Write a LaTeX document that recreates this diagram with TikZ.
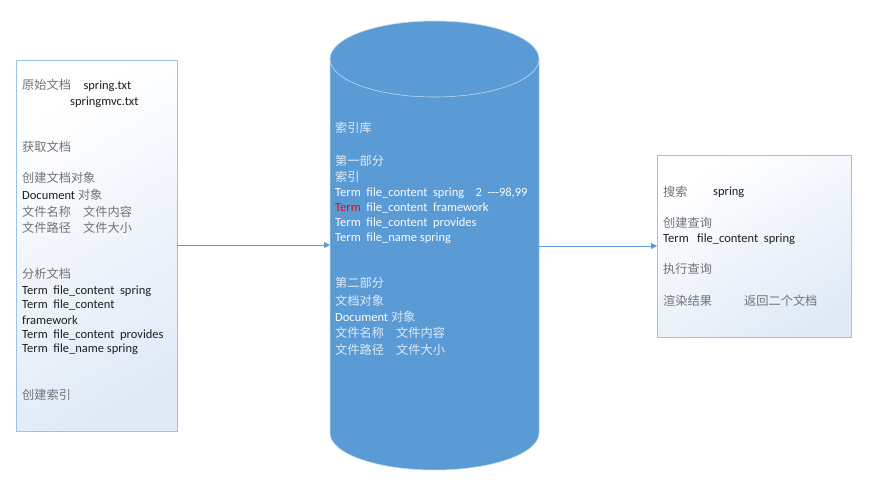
\documentclass[tikz,border=0pt]{standalone}
\usepackage{fontspec}
\setmainfont{Carlito}
\newfontfamily\cjk{Noto Sans CJK SC}
\newcommand{\zh}[1]{{\cjk\fontsize{12.2pt}{14pt}\selectfont\color{zhcol}#1}}
\usetikzlibrary{arrows.meta}
\definecolor{boxline}{RGB}{157,195,230}
\definecolor{boxfill}{RGB}{224,234,247}
\definecolor{cyl}{RGB}{91,155,213}
\definecolor{cylline}{RGB}{189,215,238}
\definecolor{arrowcol}{RGB}{91,155,213}
\definecolor{latin}{RGB}{30,30,30}
\colorlet{zhcol}{black!55}
\definecolor{cyltext}{RGB}{250,252,255}
\definecolor{cylzh}{RGB}{222,234,246}
\begin{document}
\begin{tikzpicture}[x=1pt,y=-1pt,
  txt/.style={anchor=west,inner sep=0pt,font=\fontsize{12.5pt}{14pt}\selectfont,text=latin},
  ctxt/.style={txt,text=cyltext},
  panel/.style={draw=boxline,line width=0.8pt,shading=axis,top color=white,bottom color=boxfill,shading angle=30},
  conn/.style={draw=arrowcol,line width=0.8pt,-{Triangle[length=6pt,width=6pt]}}]
\useasboundingbox (0,0) rectangle (872,489);
% left panel
\path[panel] (16,60) rectangle (177,431);
\coordinate (lbox) at (177,245);
% right panel
\path[panel] (657,155) rectangle (851,337);
\coordinate (rbox) at (657,246);
% cylinder
\fill[cyl] (330,59) -- (330,433) arc[start angle=180,end angle=0,x radius=104.5,y radius=37] -- (539,59) -- cycle;
\draw[cylline,line width=0.5pt] (330,59) -- (330,433) arc[start angle=180,end angle=0,x radius=104.5,y radius=37] -- (539,59);
\fill[cyl] (434.5,59) ellipse[x radius=104.5,y radius=38];
\draw[cylline,line width=0.6pt] (434.5,59) ellipse[x radius=104.5,y radius=38];
\coordinate (cl) at (330,245);
\coordinate (cr) at (539,246);
% connectors
\draw[conn] (lbox) -- (cl);
\draw[conn] (cr) -- (rbox);
% left texts
\node[txt] (l1) at (22,85) {\zh{原始文档}\quad spring.txt};
\node[txt] (l2) at (70,102) {springmvc.txt};
\node[txt] (l3) at (22,147) {\zh{获取文档}};
\node[txt] (l4) at (22,178) {\zh{创建文档对象}};
\node[txt] (l5) at (22,195) {Document \zh{对象}};
\node[txt] (l6) at (22,212) {\zh{文件名称\quad 文件内容}};
\node[txt] (l7) at (22,228) {\zh{文件路径\quad 文件大小}};
\node[txt] (l8) at (22,274) {\zh{分析文档}};
\node[txt] (l9) at (22,291) {Term\ \ file\_content\ \ spring};
\node[txt] (l10) at (22,305) {Term\ \ file\_content};
\node[txt] (l11) at (22,320) {framework};
\node[txt] (l12) at (22,335) {Term\ \ file\_content\ \ provides};
\node[txt] (l13) at (22,349) {Term\ \ file\_name spring};
\node[txt] (l14) at (22,395) {\zh{创建索引}};
% cylinder texts
\begin{scope}[every node/.append style={ctxt}]
\colorlet{zhcol}{cylzh}
\node (c1) at (335,128) {\zh{索引库}};
\node (c2) at (335,161) {\zh{第一部分}};
\node (c3) at (335,177) {\zh{索引}};
\node (c4) at (335,193) {Term\ \ file\_content\ \ spring\ \ \ \ 2\ \ -{}-{}-98,99};
\node (c5) at (335,208) {\textcolor{red}{Term}\ \ file\_content\ \ framework};
\node (c6) at (335,223) {Term\ \ file\_content\ \ provides};
\node (c7) at (335,238) {Term\ \ file\_name spring};
\node (c8) at (335,283) {\zh{第二部分}};
\node (c9) at (335,301) {\zh{文档对象}};
\node (c10) at (335,317) {Document \zh{对象}};
\node (c11) at (335,333) {\zh{文件名称\quad 文件内容}};
\node (c12) at (335,350) {\zh{文件路径\quad 文件大小}};
\end{scope}
% right texts
\node[txt] (r1) at (663,192) {\zh{搜索}};
\node[txt] (r1b) at (713,192) {spring};
\node[txt] (r2) at (663,223) {\zh{创建查询}};
\node[txt] (r3) at (663,239) {Term\ \ \ file\_content\ \ spring};
\node[txt] (r4) at (663,269) {\zh{执行查询}};
\node[txt] (r5) at (663,301) {\zh{渲染结果}};
\node[txt] (r5b) at (744,301) {\zh{返回二个文档}};
\end{tikzpicture}
\end{document}
